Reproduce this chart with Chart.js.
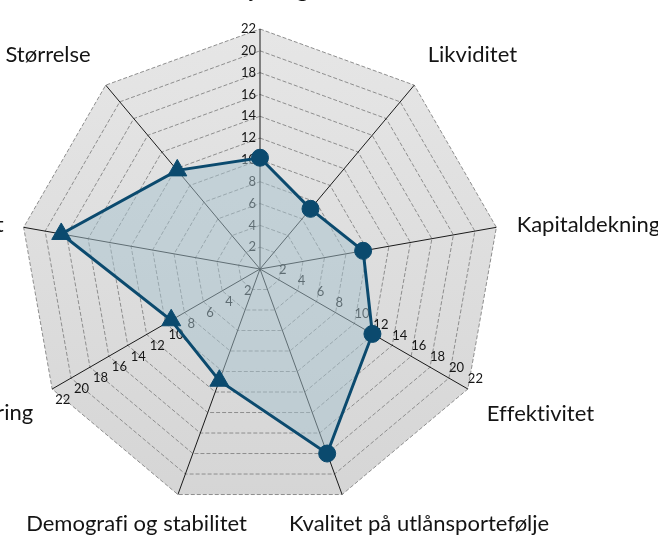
<!DOCTYPE html>
<html><head><meta charset="utf-8">
<script src="https://cdn.jsdelivr.net/npm/chart.js@4.4.1/dist/chart.umd.min.js"></script>
<style>html,body{margin:0;padding:0;background:#fff;overflow:hidden}#wrap{position:relative;width:658px;height:537px}canvas{display:block}</style>
</head><body><div id="wrap"><canvas id="c" width="658" height="537"></canvas></div>
<script>
const categories = ["Inntjening","Likviditet","Kapitaldekning","Effektivitet","Kvalitet på utlånsportefølje","Demografi og stabilitet","Finansiering","Lønnsomhet","Størrelse"];
const scores = [10.2, 7.2, 9.6, 11.9, 18.0, 10.9, 9.4, 18.5, 11.8];
const markerShapes = ["circle","circle","circle","circle","circle","triangle","triangle","triangle","triangle"];
const tickValues = [2,4,6,8,10,12,14,16,18,20,22];
const tickAxes = [0,3,6];

const labelPlacement = [
  {align:'center', dx:0, dy:-32.5},
  {align:'left', dx:13.5, dy:-22.8},
  {align:'left', dx:20.3, dy:4.4},
  {align:'left', dx:19, dy:32},
  {align:'left', dx:-53, dy:36},
  {align:'right', dx:69, dy:36},
  {align:'right', dx:-19, dy:31},
  {align:'right', dx:-20, dy:4.4},
  {align:'right', dx:-15, dy:-22.8}
];
const tickPlacement = {
  0:{align:'right', dx:-4, dy:0},
  3:{align:'left', dx:0, dy:-10},
  6:{align:'left', dx:3, dy:11}
};

function noLigatures(ctx){
  try { ctx.textRendering = 'optimizeSpeed'; } catch(e) {}
  try { ctx.letterSpacing = '0.01px'; } catch(e) {}
}

const bgPlugin = {
  id:'bg',
  beforeDraw(chart){
    const s = chart.scales.r, ctx = chart.ctx;
    const n = categories.length;
    ctx.save();
    const g = ctx.createLinearGradient(0, s.yCenter - s.drawingArea, 0, s.yCenter + s.drawingArea);
    g.addColorStop(0, '#e6e6e6');
    g.addColorStop(1, '#d5d5d5');
    ctx.beginPath();
    for (let i=0;i<n;i++){
      const p = s.getPointPosition(i, s.drawingArea);
      if(i===0) ctx.moveTo(p.x,p.y); else ctx.lineTo(p.x,p.y);
    }
    ctx.closePath();
    ctx.fillStyle = g;
    ctx.fill();
    ctx.restore();
  }
};
const tickPlugin = {
  id:'ticksMulti',
  beforeDatasetsDraw(chart){
    const s = chart.scales.r, ctx = chart.ctx;
    ctx.save();
    noLigatures(ctx);
    ctx.font = '13px Lato';
    ctx.fillStyle = '#161616';
    ctx.textBaseline = 'middle';
    tickAxes.forEach(ai=>{
      const tp = tickPlacement[ai];
      ctx.textAlign = tp.align;
      tickValues.forEach(v=>{
        const p = s.getPointPosition(ai, s.getDistanceFromCenterForValue(v));
        ctx.fillText(String(v), p.x + tp.dx, p.y + tp.dy);
      });
    });
    ctx.restore();
  }
};
const labelPlugin = {
  id:'axisLabels',
  afterDraw(chart){
    const s = chart.scales.r, ctx = chart.ctx;
    ctx.save();
    noLigatures(ctx);
    ctx.font = '22px Lato';
    ctx.fillStyle = '#141414';
    ctx.textBaseline = 'alphabetic';
    categories.forEach((c,i)=>{
      const lp = labelPlacement[i];
      const p = s.getPointPosition(i, s.drawingArea);
      ctx.textAlign = lp.align;
      ctx.fillText(c, p.x + lp.dx, p.y + lp.dy);
    });
    ctx.restore();
  }
};

new Chart(document.getElementById('c').getContext('2d'), {
  type:'radar',
  data:{
    labels: categories,
    datasets:[{
      data: scores,
      fill: true,
      backgroundColor: 'rgba(165,193,205,0.5)',
      borderColor: '#0b4a6e',
      borderWidth: 3,
      pointStyle: markerShapes,
      pointRadius: markerShapes.map(s => s === 'circle' ? 8.5 : 11),
      pointHoverRadius: markerShapes.map(s => s === 'circle' ? 8.5 : 11),
      pointBackgroundColor: '#0b4a6e',
      pointBorderColor: '#0b4a6e',
      pointBorderWidth: 1,
      tension: 0
    }]
  },
  options:{
    responsive:false,
    animation:false,
    devicePixelRatio:1,
    layout:{padding:{left:20, top:29, right:158, bottom:28}},
    plugins:{legend:{display:false}, tooltip:{enabled:false}},
    scales:{
      r:{
        min:0, max:22,
        ticks:{display:false, stepSize:2},
        pointLabels:{display:false},
        grid:{color:'#8e8e8e', lineWidth:1},
        border:{dash:[4,2]},
        angleLines:{color:'#1a1a1a', lineWidth:1}
      }
    }
  },
  plugins:[bgPlugin, tickPlugin, labelPlugin]
});
</script>
</body></html>
